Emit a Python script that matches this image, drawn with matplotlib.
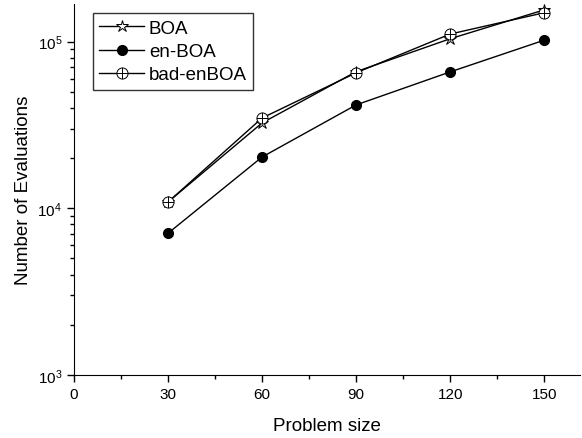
import numpy as np
import matplotlib
matplotlib.use("Agg")
import matplotlib.pyplot as plt
from matplotlib.path import Path
from matplotlib.ticker import LogLocator, LogFormatterMathtext, MultipleLocator, NullFormatter

plt.rcParams['font.family'] = ['Liberation Sans', 'DejaVu Sans']
plt.rcParams['mathtext.default'] = 'regular'

sizes = [30, 60, 90, 120, 150]
boa = [10900, 32500, 66000, 104000, 155000]
en_boa = [7080, 20300, 41700, 65800, 102000]
bad_enboa = [10900, 34800, 65000, 111000, 149000]

# circle with a plus inside
circ = Path.unit_circle()
cross = Path([(-1, 0), (1, 0), (0, -1), (0, 1)],
             [Path.MOVETO, Path.LINETO, Path.MOVETO, Path.LINETO])
oplus = Path.make_compound_path(circ, cross)

fig = plt.figure(figsize=(5.82, 4.39), dpi=100)
ax = fig.add_axes([0.127, 0.1435, 0.870, 0.845])

ax.plot(sizes, boa, "-k", lw=1, marker="*", ms=9, mfc="white", mec="black", mew=0.7, label="BOA")
ax.plot(sizes, en_boa, "-k", lw=1, marker="o", ms=7, mfc="black", mec="black", label="en-BOA")
ax.plot(sizes, bad_enboa, "-k", lw=1, marker=oplus, ms=8, mfc="white", mec="black", mew=0.7,
        label="bad-enBOA")

ax.set_yscale("log")
ax.set_ylim(1000, 168000)
ax.set_xlim(0, 161.5)
ax.xaxis.set_major_locator(MultipleLocator(30))
ax.xaxis.set_minor_locator(MultipleLocator(15))
ax.yaxis.set_major_locator(LogLocator(base=10))
ax.yaxis.set_major_formatter(LogFormatterMathtext())
ax.yaxis.set_minor_locator(LogLocator(base=10, subs=np.arange(2, 10)))
ax.yaxis.set_minor_formatter(NullFormatter())

ax.spines["top"].set_visible(False)
ax.spines["right"].set_visible(False)
ax.tick_params(which="major", direction="out", length=5, width=1, labelsize=11)
ax.tick_params(which="minor", direction="out", length=3, width=1)

ax.set_xlabel("Problem size", fontsize=13.5, labelpad=12)
ax.set_ylabel("Number of Evaluations", fontsize=13.5, labelpad=4)

leg = ax.legend(loc="upper left", bbox_to_anchor=(0.037, 0.975), fontsize=13.5, frameon=True,
                fancybox=False, edgecolor="black", numpoints=1, handlelength=2.4,
                borderpad=0.35, labelspacing=0.32, handletextpad=0.25, borderaxespad=0)
leg.get_frame().set_linewidth(1)

fig.savefig("out.png", dpi=100)
